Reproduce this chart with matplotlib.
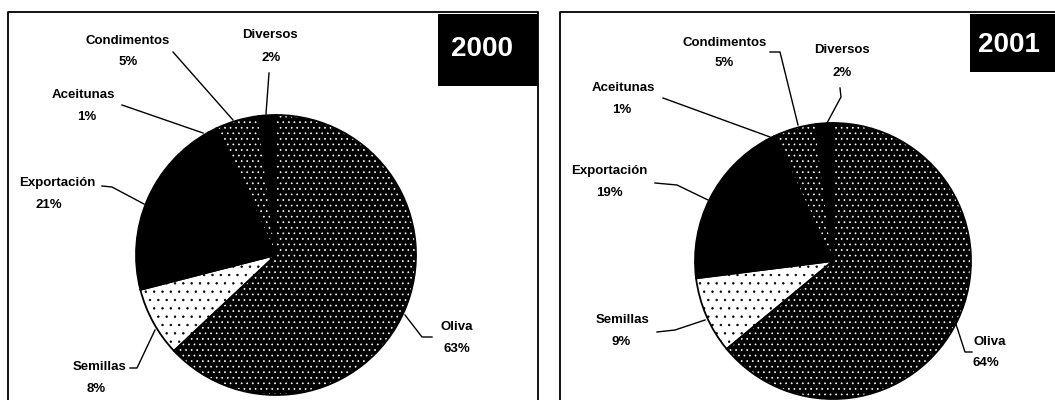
import matplotlib.pyplot as plt
from matplotlib.patches import Rectangle

W, H = 1055, 400

# data
categories = ["Oliva", "Semillas", "Exportación", "Aceitunas", "Condimentos", "Diversos"]
values_2000 = [63, 8, 21, 1, 5, 2]
values_2001 = [64, 9, 19, 1, 5, 2]
years = ["2000", "2001"]

# slice look: face colour, hatch, hatch colour
STYLES = {
    "Oliva": ("black", "...", "white"),
    "Semillas": ("white", "..", "black"),
    "Exportación": ("black", None, "black"),
    "Aceitunas": ("black", None, "black"),
    "Condimentos": ("black", "...", "white"),
    "Diversos": ("black", None, "black"),
}

# layout in pixels (x from left, y from top)
PANELS = [
    {
        "box": (8, 12, 538),
        "year_box": (438, 14, 100, 72),
        "year_xy": (482, 49),
        "center": (276, 255),
        "radius": 140,
        "labels": {
            "Oliva": ((457, 327), (457, 349)),
            "Semillas": ((100, 367), (96, 389)),
            "Exportación": ((57, 183), (49, 205)),
            "Aceitunas": ((83, 95), (87, 117)),
            "Condimentos": ((128, 41), (128, 62)),
            "Diversos": ((270, 35), (271, 58)),
        },
        "leaders": {
            "Oliva": [(405, 315), (422, 337), (432, 337)],
            "Semillas": [(130, 368), (137, 368), (155, 330)],
            "Exportación": [(102, 186), (112, 187), (144, 204)],
            "Aceitunas": [(122, 105), (203, 133)],
            "Condimentos": [(173, 52), (233, 120)],
            "Diversos": [(269, 73), (266, 114)],
        },
    },
    {
        "box": (560, 12, 1070),
        "year_box": (970, 14, 90, 58),
        "year_xy": (1009, 45),
        "center": (833, 261),
        "radius": 138,
        "labels": {
            "Oliva": ((990, 342), (986, 363)),
            "Semillas": ((623, 320), (621, 342)),
            "Exportación": ((609, 171), (609, 193)),
            "Aceitunas": ((623, 88), (622, 110)),
            "Condimentos": ((725, 43), (724, 63)),
            "Diversos": ((842, 50), (842, 73)),
        },
        "leaders": {
            "Oliva": [(953, 315), (965, 352), (972, 352)],
            "Semillas": [(657, 332), (675, 330), (705, 320)],
            "Exportación": [(655, 183), (677, 185), (708, 200)],
            "Aceitunas": [(663, 98), (770, 137)],
            "Condimentos": [(770, 52), (780, 52), (798, 125)],
            "Diversos": [(840, 88), (841, 97), (827, 123)],
        },
    },
]

plt.rcParams['hatch.linewidth'] = 0.5
FONT = "Liberation Sans"


def P(x, y):
    return x, H - y


fig = plt.figure(figsize=(W / 100, H / 100), dpi=100)
ax = fig.add_axes([0, 0, 1, 1])

for panel, values, year in zip(PANELS, [values_2000, values_2001], years):
    cx, cy = P(*panel["center"])
    r = panel["radius"]

    # filled wedges with patterns
    wedges, _ = ax.pie(values, center=(cx, cy), radius=r, startangle=90,
                       counterclock=False, frame=True,
                       wedgeprops=dict(linewidth=0))
    for w, name in zip(wedges, categories):
        face, hatch, hcol = STYLES[name]
        w.set_facecolor(face)
        w.set_edgecolor(hcol)
        w.set_linewidth(0)
        if hatch:
            w.set_hatch(hatch)

    # outline on top
    ax.pie(values, center=(cx, cy), radius=r, startangle=90,
           counterclock=False, frame=True,
           wedgeprops=dict(fill=False, edgecolor="black", linewidth=1.3))

    # labels and leader lines
    for name, v in zip(categories, values):
        (nx, ny), (px, py) = panel["labels"][name]
        ax.text(*P(nx, ny), name, ha="center", va="center", fontsize=9.5,
                fontweight="bold", family=FONT)
        ax.text(*P(px, py), f"{v}%", ha="center", va="center", fontsize=9.5,
                fontweight="bold", family=FONT)
        pts = [P(x, y) for x, y in panel["leaders"][name]]
        ax.plot([p[0] for p in pts], [p[1] for p in pts], color="black", lw=1.0)

    # panel frame
    x0, y0, x1 = panel["box"]
    ax.plot([x0, x0, x1, x1], [0, H - y0, H - y0, 0], color="black", lw=1.3)

    # year tag
    bx, by, bw, bh = panel["year_box"]
    ax.add_patch(Rectangle((bx, H - by - bh), bw, bh, facecolor="black",
                           edgecolor="none", zorder=3))
    ax.text(*P(*panel["year_xy"]), year, ha="center", va="center", color="white",
            fontsize=20, fontweight="bold", family=FONT, zorder=4)

ax.set_xlim(0, W)
ax.set_ylim(0, H)
ax.set_aspect("auto")
ax.axis("off")

fig.savefig("out.png", dpi=100, facecolor="white")
